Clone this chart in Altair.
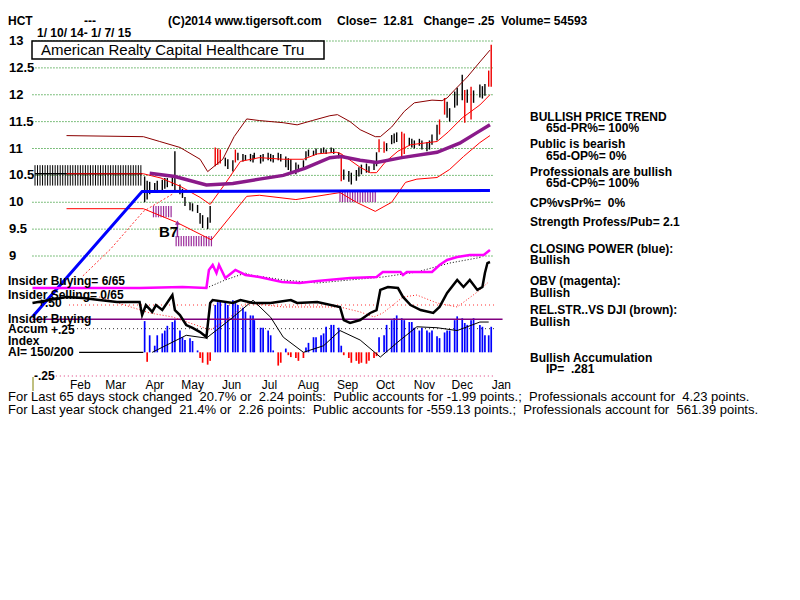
import altair as alt
import pandas as pd

# ---------------- data ----------------
bar_dates = [
    "2014-04-07", "2014-04-09", "2014-04-11", "2014-04-15", "2014-04-17", "2014-04-21", "2014-04-23", "2014-04-25", "2014-04-29", "2014-05-01",
    "2014-05-05", "2014-05-07", "2014-05-09", "2014-05-13", "2014-05-15", "2014-05-19", "2014-05-21", "2014-05-23", "2014-05-27", "2014-05-29",
    "2014-06-02", "2014-06-04", "2014-06-06", "2014-06-10", "2014-06-12", "2014-06-16", "2014-06-18", "2014-06-20", "2014-06-24", "2014-06-26",
    "2014-06-30", "2014-07-02", "2014-07-03", "2014-07-08", "2014-07-10", "2014-07-14", "2014-07-16", "2014-07-18", "2014-07-22", "2014-07-24",
    "2014-07-28", "2014-07-30", "2014-08-01", "2014-08-05", "2014-08-07", "2014-08-11", "2014-08-13", "2014-08-15", "2014-08-19", "2014-08-21",
    "2014-08-25", "2014-08-27", "2014-08-29", "2014-09-02", "2014-09-04", "2014-09-08", "2014-09-10", "2014-09-12", "2014-09-16", "2014-09-18",
    "2014-09-22", "2014-09-24", "2014-09-26", "2014-09-30", "2014-10-02", "2014-10-06", "2014-10-08", "2014-10-10", "2014-10-14", "2014-10-16",
    "2014-10-20", "2014-10-22", "2014-10-24", "2014-10-28", "2014-10-30", "2014-11-03", "2014-11-05", "2014-11-07", "2014-11-11", "2014-11-13",
    "2014-11-17", "2014-11-19", "2014-11-21", "2014-11-25", "2014-11-27", "2014-12-01", "2014-12-03", "2014-12-05", "2014-12-09", "2014-12-11",
    "2014-12-15", "2014-12-17", "2014-12-19", "2014-12-22", "2014-12-24", "2014-12-29", "2014-12-31", "2015-01-02", "2015-01-05", "2015-01-07",
]
bar_high = [
    10.48, 10.40, 10.38, 10.36, 10.40, 10.42, 10.45, 10.45, 10.47, 10.95,
    10.33, 10.25, 10.10, 10.00, 9.98, 9.95, 9.80, 9.76, 9.72, 9.93,
    11.02, 11.00, 10.98, 10.83, 10.80, 10.78, 10.98, 10.92, 10.90, 10.88,
    10.90, 10.88, 10.92, 10.88, 10.90, 10.92, 10.90, 10.88, 10.92, 10.90,
    10.85, 10.82, 10.80, 10.74, 10.70, 10.78, 10.95, 10.98, 10.96, 11.00,
    11.00, 11.02, 10.98, 11.02, 11.00, 10.93, 10.89, 10.61, 10.58, 10.55,
    10.60, 10.65, 10.70, 10.72, 10.67, 10.76, 10.93, 11.17, 11.13, 11.10,
    11.25, 11.28, 11.30, 11.31, 11.28, 11.20, 11.18, 11.15, 11.18, 11.15,
    11.12, 11.15, 11.26, 11.44, 11.54, 11.94, 11.87, 11.75, 12.06, 12.13,
    12.37, 12.09, 12.10, 12.15, 12.08, 12.19, 12.16, 12.20, 12.45, 12.93,
]
bar_low = [
    10.00, 10.05, 10.15, 10.18, 10.20, 10.22, 10.25, 10.28, 10.30, 10.19,
    10.15, 10.08, 9.93, 9.85, 9.83, 9.80, 9.60, 9.52, 9.50, 9.62,
    10.67, 10.70, 10.72, 10.67, 10.62, 10.57, 10.74, 10.78, 10.76, 10.78,
    10.76, 10.74, 10.80, 10.72, 10.76, 10.78, 10.76, 10.74, 10.78, 10.76,
    10.65, 10.60, 10.55, 10.52, 10.56, 10.62, 10.78, 10.85, 10.86, 10.88,
    10.90, 10.92, 10.90, 10.92, 10.90, 10.82, 10.39, 10.42, 10.38, 10.33,
    10.40, 10.48, 10.52, 10.55, 10.55, 10.60, 10.67, 10.93, 10.92, 10.95,
    11.08, 11.10, 11.12, 10.85, 10.90, 11.05, 11.02, 11.00, 11.05, 10.98,
    10.95, 10.98, 11.07, 11.15, 11.26, 11.63, 11.57, 11.50, 11.76, 11.80,
    11.90, 11.48, 11.85, 11.54, 11.85, 11.95, 11.93, 11.98, 12.15, 12.15,
]
bar_red = [
    0, 0, 0, 0, 0, 0, 0, 0, 0, 0,
    0, 0, 0, 0, 0, 0, 0, 0, 0, 0,
    1, 1, 1, 0, 0, 0, 1, 0, 0, 0,
    0, 0, 0, 0, 0, 0, 0, 0, 0, 0,
    0, 0, 0, 0, 0, 0, 0, 0, 0, 0,
    0, 0, 0, 0, 0, 0, 1, 0, 0, 0,
    0, 0, 0, 0, 0, 0, 0, 1, 1, 0,
    0, 0, 0, 1, 1, 0, 0, 0, 0, 0,
    0, 0, 0, 0, 1, 1, 0, 0, 0, 0,
    0, 1, 0, 1, 0, 0, 0, 0, 1, 1,
]
accum_vals = [
    0.33, -0.10, 0.18, 0.07, 0.18, 0.20, 0.23, 0.28, 0.32, 0.34,
    0.23, 0.16, 0.13, 0.15, 0.12, 0.02, -0.06, -0.11, -0.13, -0.09,
    0.50, 0.53, 0.55, 0.53, 0.50, 0.55, 0.53, 0.50, 0.47, 0.43,
    0.39, 0.39, 0.34, 0.26, 0.26, 0.23, 0.18, 0.02, -0.14, -0.11,
    0.04, -0.03, -0.05, -0.06, -0.09, -0.06, 0.05, 0.10, 0.16, 0.16,
    0.18, 0.20, 0.27, 0.29, 0.29, 0.26, 0.07, -0.03, -0.06, -0.11,
    -0.09, -0.12, -0.11, -0.12, -0.09, -0.06, -0.04, 0.16, 0.18, 0.29,
    0.34, 0.36, 0.39, 0.36, 0.34, 0.32, 0.32, 0.26, 0.23, 0.26,
    0.23, 0.21, 0.23, 0.17, 0.15, 0.21, 0.23, 0.23, 0.34, 0.38,
    0.36, 0.31, 0.29, 0.34, 0.36, 0.29, 0.27, 0.18, 0.18, 0.27,
]

upper_dates = ["2014-02-04", "2014-04-06", "2014-04-19", "2014-05-05", "2014-05-21", "2014-05-27", "2014-06-08", "2014-06-17",
               "2014-06-27", "2014-07-07", "2014-07-26", "2014-08-06", "2014-08-18", "2014-09-01", "2014-09-07", "2014-09-17",
               "2014-09-25", "2014-10-07", "2014-10-11", "2014-10-20", "2014-10-30", "2014-11-07", "2014-11-21", "2014-11-29",
               "2014-12-03", "2014-12-09", "2014-12-19", "2014-12-29", "2015-01-06"]
upper_vals = [11.24, 11.22, 11.13, 11.02, 10.80, 10.57, 10.80, 11.22,
              11.55, 11.52, 11.48, 11.44, 11.52, 11.61, 11.63, 11.50,
              11.35, 11.22, 11.22, 11.40, 11.69, 11.85, 11.90, 11.89,
              11.94, 12.09, 12.33, 12.61, 12.83]

mid_dates = ["2014-02-04", "2014-04-06", "2014-04-20", "2014-05-05", "2014-05-21", "2014-05-29", "2014-06-10", "2014-06-22",
             "2014-07-07", "2014-07-26", "2014-08-11", "2014-08-22", "2014-09-06", "2014-09-10", "2014-09-25", "2014-10-03",
             "2014-10-08", "2014-10-15", "2014-10-25", "2014-11-04", "2014-11-25", "2014-12-04", "2014-12-15", "2014-12-29",
             "2015-01-06"]
mid_vals = [10.53, 10.53, 10.45, 10.30, 10.09, 9.96, 10.35, 10.76,
            10.83, 10.80, 10.80, 10.90, 10.93, 10.90, 10.65, 10.55,
            10.55, 10.75, 10.95, 11.07, 11.13, 11.31, 11.57, 11.81,
            12.00]

lower_dates = ["2014-02-04", "2014-04-06", "2014-05-02", "2014-05-30", "2014-06-27", "2014-07-07", "2014-08-05", "2014-09-01",
               "2014-09-09", "2014-09-22", "2014-10-07", "2014-10-20", "2014-10-31", "2014-11-09", "2014-11-25", "2014-12-05",
               "2014-12-16", "2014-12-29", "2015-01-06"]
lower_vals = [9.88, 9.88, 9.63, 9.30, 10.11, 10.13, 10.05, 10.15,
              10.18, 10.00, 9.83, 10.00, 10.37, 10.43, 10.46, 10.61,
              10.85, 11.11, 11.24]

ma_dates = ["2014-04-11", "2014-05-01", "2014-05-26", "2014-06-16", "2014-07-07", "2014-07-26", "2014-08-12", "2014-09-01",
            "2014-09-10", "2014-09-25", "2014-10-08", "2014-10-28", "2014-11-25", "2014-12-13", "2014-12-27", "2015-01-06"]
ma_vals = [10.54, 10.48, 10.32, 10.35, 10.43, 10.50, 10.63, 10.83,
           10.85, 10.78, 10.74, 10.83, 10.93, 11.10, 11.30, 11.44]

blue_dates = ["2014-01-08", "2014-04-05", "2015-01-06"]
blue_vals = [7.87, 10.20, 10.22]

dot_dates = ["2014-02-17", "2014-03-11", "2014-04-06", "2014-04-29"]
dot_vals = [8.63, 9.13, 9.83, 10.15]

# pre-listing placeholder block and signal hatches (start, end, low, high)
hash_block = ("2014-01-10", "2014-04-05", 10.31, 10.69)
hash_line = 10.53
signal_hatches = [("2014-04-14", "2014-04-28", 9.72, 9.93),
                  ("2014-05-02", "2014-05-30", 9.18, 9.37),
                  ("2014-09-09", "2014-10-08", 10.00, 10.22)]
b7_date, b7_low, b7_high = "2014-05-03", 9.35, 9.62

# lower panel lines (0-100 oscillator units)
obv_dates = ["2014-01-08", "2014-04-03", "2014-05-07", "2014-05-26", "2014-05-28", "2014-05-31", "2014-06-03", "2014-06-05",
             "2014-06-10", "2014-06-18", "2014-06-26", "2014-07-07", "2014-07-25", "2014-08-08", "2014-08-22", "2014-09-17",
             "2014-10-08", "2014-10-13", "2014-10-27", "2014-10-29", "2014-11-01", "2014-11-21", "2014-11-27", "2014-12-03",
             "2014-12-11", "2014-12-21", "2015-01-01", "2015-01-04", "2015-01-06"]
obv_vals = [70.3, 70.3, 71.1, 70.3, 84.4, 88.3, 82.0, 88.3,
            78.1, 84.4, 80.5, 78.9, 75.0, 74.2, 75.8, 78.1,
            78.9, 82.8, 82.8, 80.5, 82.8, 82.8, 88.3, 92.2,
            94.5, 96.1, 96.1, 98.4, 100.0]
obvma_dates = ["2014-05-26", "2014-06-10", "2014-06-26", "2014-06-30", "2014-07-26", "2014-08-22", "2014-09-17",
               "2014-10-13", "2014-11-09", "2014-12-05", "2014-12-31"]
obvma_vals = [70.3, 76.6, 82.0, 80.5, 76.6, 74.2, 76.6, 78.9, 82.8, 89.8, 94.5]

cp_dates = ["2014-01-08", "2014-02-04", "2014-02-17", "2014-03-02", "2014-03-16", "2014-04-03", "2014-04-05", "2014-04-08",
            "2014-04-13", "2014-04-16", "2014-04-21", "2014-04-29", "2014-05-01", "2014-05-05", "2014-05-10", "2014-05-15",
            "2014-05-21", "2014-05-26", "2014-05-29", "2014-05-31", "2014-06-16", "2014-06-22", "2014-07-02", "2014-07-16",
            "2014-08-01", "2014-08-06", "2014-08-22", "2014-09-09", "2014-09-12", "2014-09-17", "2014-09-25", "2014-10-03",
            "2014-10-08", "2014-10-11", "2014-10-17", "2014-10-25", "2014-10-29", "2014-11-04", "2014-11-12", "2014-11-22",
            "2014-11-27", "2014-12-03", "2014-12-11", "2014-12-16", "2014-12-21", "2014-12-27", "2014-12-31", "2015-01-02",
            "2015-01-04", "2015-01-06"]
cp_vals = [58.6, 63.3, 62.5, 61.0, 59.4, 59.4, 49.2, 57.0,
           51.6, 57.0, 53.1, 64.8, 53.1, 49.2, 41.4, 39.1,
           35.9, 32.0, 58.6, 60.9, 58.6, 60.9, 58.6, 58.6,
           60.9, 58.6, 59.4, 55.5, 45.3, 43.0, 45.3, 50.8,
           53.1, 68.8, 71.1, 70.3, 63.3, 57.0, 53.1, 50.8,
           55.5, 66.4, 76.6, 71.1, 76.6, 68.8, 71.1, 82.0,
           89.8, 90.6]
cpma_dates = ["2014-03-02", "2014-04-11", "2014-04-29", "2014-05-29", "2014-06-11", "2014-06-27", "2014-07-26", "2014-09-09",
              "2014-09-25", "2014-10-06", "2014-10-13", "2014-10-29", "2014-11-09", "2014-11-25", "2014-12-11", "2014-12-27",
              "2015-01-04"]
cpma_vals = [63.3, 50.8, 47.7, 37.5, 45.3, 58.6, 55.5, 55.5,
             51.6, 47.7, 50.8, 63.3, 64.8, 58.6, 55.5, 67.2, 74.2]

# accumulation index moving line (index units)
aima_dates = ["2014-04-13", "2014-05-10", "2014-05-26", "2014-06-16", "2014-07-02", "2014-07-16", "2014-07-26", "2014-08-11",
              "2014-08-27", "2014-09-09", "2014-09-25", "2014-10-11", "2014-10-25", "2014-11-09", "2014-11-25", "2014-12-11",
              "2014-12-29", "2015-01-05"]
aima_vals = [0.0, 0.18, 0.15, 0.37, 0.55, 0.37, 0.16, 0.0,
             0.07, 0.23, 0.13, -0.05, 0.11, 0.27, 0.26, 0.23, 0.32, 0.32]

price_ticks = [13, 12.5, 12, 11.5, 11, 10.5, 10, 9.5, 9]
price_labels = ["13", "12.5", "12", "11.5", "11", "10.5", "10", "9.5", "9"]
month_dates = ["2014-02-15", "2014-03-15", "2014-04-15", "2014-05-15", "2014-06-15", "2014-07-15",
               "2014-08-15", "2014-09-15", "2014-10-15", "2014-11-15", "2014-12-15", "2015-01-15"]
month_names = ["Feb", "Mar", "Apr", "May", "Jun", "Jul", "Aug", "Sep", "Oct", "Nov", "Dec", "Jan"]

# ---------------- scales ----------------
FB = "Liberation Sans, Arial, sans-serif"
NB = "\u00a0"

XS = alt.Scale(type="utc", domain=[alt.DateTime(year=2014, month=1, date=10, utc=True),
                                    alt.DateTime(year=2015, month=1, date=10, utc=True)])
PY = alt.Scale(domain=[9, 13], range=[221, 6], zero=False, nice=False)
OSC = alt.Scale(domain=[0, 100], range=[343, 215], zero=False, nice=False)
ACC = alt.Scale(domain=[-0.25, 0.5], range=[341, 270], zero=False, nice=False)


def X(f="d"):
    return alt.X(f + ":T", scale=XS, axis=None)


def line(dates, vals, scale, color, width, dash=None):
    df = pd.DataFrame({"d": dates, "v": vals})
    kw = dict(color=color, strokeWidth=width, interpolate="linear")
    if dash:
        kw["strokeDash"] = dash
    return alt.Chart(df).mark_line(**kw).encode(x=X(), y=alt.Y("v:Q", scale=scale, axis=None))


def hline(d0, d1, v, scale, color, width=1, dash=None):
    df = pd.DataFrame({"d0": [d0], "d1": [d1], "v": [v]})
    kw = dict(color=color, strokeWidth=width)
    if dash:
        kw["strokeDash"] = dash
    return alt.Chart(df).mark_rule(**kw).encode(x=X("d0"), x2="d1:T", y=alt.Y("v:Q", scale=scale, axis=None))


def hatch(start, end, lo, hi, color, step="2D", width=1):
    ds = pd.date_range(start, end, freq=step).strftime("%Y-%m-%d")
    df = pd.DataFrame({"d": ds, "lo": lo, "hi": hi})
    return alt.Chart(df).mark_rule(color=color, strokeWidth=width).encode(
        x=X(), y=alt.Y("lo:Q", scale=PY, axis=None), y2="hi:Q")


def txt(s, px, py, size=12, weight="bold", font=FB, color="black", align="left"):
    s = s.replace("  ", NB + NB)
    return alt.Chart(alt.Data(values=[{"a": 1}])).mark_text(
        text=s, align=align, baseline="middle", fontSize=size, fontWeight=weight, font=font, color=color
    ).encode(x=alt.value(px - 35), y=alt.value(py - 35))


layers = []

# price grid and labels
grid_df = pd.DataFrame({"p": price_ticks, "lab": price_labels, "d0": "2014-01-08", "d1": "2015-01-08"})
layers.append(alt.Chart(grid_df).mark_rule(color="#008000", strokeDash=[1, 2], strokeWidth=1).encode(
    x=X("d0"), x2="d1:T", y=alt.Y("p:Q", scale=PY, axis=None)))
layers.append(alt.Chart(grid_df).mark_text(align="left", baseline="middle", fontSize=13, fontWeight="bold", font=FB).encode(
    x=alt.value(9 - 35), y=alt.Y("p:Q", scale=PY, axis=None), text="lab:N"))

# placeholder block before listing
layers.append(hatch(hash_block[0], hash_block[1], hash_block[2], hash_block[3], "black", "2D", 1))
layers.append(hline(hash_block[0], hash_block[1], hash_line, PY, "black", 1.5))

# signal hatches
for s, e, lo, hi in signal_hatches:
    layers.append(hatch(s, e, lo, hi, "#9a2a9a", "2D", 1.2))

# price bars
bars_df = pd.DataFrame({"d": bar_dates, "h": bar_high, "l": bar_low,
                        "c": ["#ee0000" if r else "black" for r in bar_red]})
layers.append(alt.Chart(bars_df).mark_rule(strokeWidth=1.4).encode(
    x=X(), y=alt.Y("l:Q", scale=PY, axis=None), y2="h:Q", color=alt.Color("c:N", scale=None)))

# bands and moving averages
layers.append(line(upper_dates, upper_vals, PY, "#8b0000", 1))
layers.append(line(mid_dates, mid_vals, PY, "#ff0000", 1))
layers.append(line(lower_dates, lower_vals, PY, "#ff0000", 1))
layers.append(line(dot_dates, dot_vals, PY, "#ff3030", 1, [2, 2]))
layers.append(line(ma_dates, ma_vals, PY, "#8a1a8a", 3.5))
layers.append(line(blue_dates, blue_vals, PY, "#0000ff", 3))

# B7 arrow
b7 = pd.DataFrame({"d": [b7_date], "lo": [b7_low], "hi": [b7_high]})
layers.append(alt.Chart(b7).mark_rule(color="#9a2a9a", strokeWidth=1.5).encode(
    x=X(), y=alt.Y("lo:Q", scale=PY, axis=None), y2="hi:Q"))
layers.append(alt.Chart(b7).mark_point(shape="triangle-up", filled=True, size=25, color="#9a2a9a", opacity=1).encode(
    x=X(), y=alt.Y("hi:Q", scale=PY, axis=None)))

# lower panel reference lines
layers.append(hline("2014-02-06", "2015-01-10", 0.5, ACC, "#ff3030", 1, [1, 3]))
layers.append(hline("2014-02-06", "2015-01-10", 0.25, ACC, "#333333", 1, [1, 3]))
layers.append(hline("2014-01-17", "2015-01-10", -0.25, ACC, "#dd3377", 1, [1, 3]))
layers.append(hline("2014-02-14", "2014-04-06", 0.0, ACC, "black", 1.2))

# accumulation histogram
acc_df = pd.DataFrame({"d": bar_dates, "a": accum_vals, "z": 0.0,
                       "c": ["#ff0000" if v < 0 else "#0000ff" for v in accum_vals]})
layers.append(alt.Chart(acc_df).mark_rule(strokeWidth=1.7).encode(
    x=X(), y=alt.Y("z:Q", scale=ACC, axis=None), y2="a:Q", color=alt.Color("c:N", scale=None)))
layers.append(hline("2014-01-08", "2015-01-16", 0.35, ACC, "#800080", 1.5))
layers.append(line(aima_dates, aima_vals, ACC, "black", 1))

# OBV and closing power lines
layers.append(line(obvma_dates, obvma_vals, OSC, "black", 1, [1, 2]))
layers.append(line(obv_dates, obv_vals, OSC, "#ff00ff", 2.5))
layers.append(line(cpma_dates, cpma_vals, OSC, "#ff2020", 1, [1, 2]))
layers.append(line(cp_dates, cp_vals, OSC, "black", 2.5))

# title box
layers.append(alt.Chart(alt.Data(values=[{"a": 1}])).mark_rect(fill="white", stroke="black", strokeWidth=1.5).encode(
    x=alt.value(32 - 35), x2=alt.value(324 - 35), y=alt.value(41 - 35), y2=alt.value(59 - 35)))

# month labels
mon_df = pd.DataFrame({"d": month_dates, "m": month_names})
layers.append(alt.Chart(mon_df).mark_text(baseline="middle", align="center", fontSize=12, font=FB).encode(
    x=X(), y=alt.value(385 - 35), text="m:N"))

# olive tick
layers.append(alt.Chart(alt.Data(values=[{"a": 1}])).mark_rule(color="#808000", strokeWidth=1).encode(
    x=alt.value(33 - 35), y=alt.value(377 - 35), y2=alt.value(391 - 35)))

texts = [
    txt("HCT", 8, 21), txt("---", 84, 21), txt("(C)2014 www.tigersoft.com", 168, 21),
    txt("Close=  12.81   Change= .25  Volume= 54593", 337, 21),
    txt("1/ 10/ 14- 1/ 7/ 15", 37, 33),
    txt("American Realty Capital Healthcare Tru", 41, 50, size=15, weight="normal"),
    txt("B7", 159, 232, size=15),
    txt("Insider Buying= 6/65", 8, 281), txt("Insider Selling= 0/65", 8, 295),
    txt("+.50", 38, 303), txt("Insider Buying", 8, 319), txt("Accum", 8, 329), txt("+.25", 51, 330),
    txt("Index", 8, 341), txt("AI= 150/200", 8, 352), txt("-.25", 34, 376),
    txt("For Last 65 days stock changed  20.7% or  2.24 points:  Public accounts for -1.99 points.;  Professionals account for  4.23 points.",
        8, 397, size=13, weight="normal"),
    txt("For Last year stock changed  21.4% or  2.26 points:  Public accounts for -559.13 points.;  Professionals account for  561.39 points.",
        8, 410, size=13, weight="normal"),
    txt("BULLISH PRICE TREND", 530, 117), txt("65d-PR%= 100%", 546, 128),
    txt("Public is bearish", 530, 144), txt("65d-OP%= 0%", 546, 156),
    txt("Professionals are bullish", 530, 172), txt("65d-CP%= 100%", 546, 183),
    txt("CP%vsPr%=  0%", 530, 203), txt("Strength Profess/Pub= 2.1", 530, 222),
    txt("CLOSING POWER (blue):", 530, 249), txt("Bullish", 530, 260),
    txt("OBV (magenta):", 530, 281), txt("Bullish", 530, 293),
    txt("REL.STR..VS DJI (brown):", 530, 310), txt("Bullish", 530, 322),
    txt("Bullish Accumulation", 530, 358), txt("IP=  .281", 546, 369),
]
layers.extend(texts)

chart = alt.layer(*layers).resolve_scale(y="independent").properties(
    width=460, height=343,
    padding={"left": 27, "top": 27, "right": 297, "bottom": 214},
    autosize=alt.AutoSizeParams(type="none"),
    background="white",
).configure_view(stroke=None)

chart.save("out.html", embed_options={"renderer": "svg", "actions": False})
